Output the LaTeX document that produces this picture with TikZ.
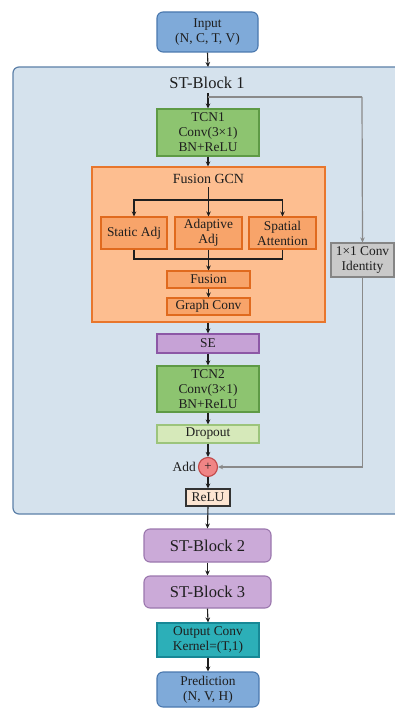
\documentclass[tikz,border=0pt]{standalone}
\usepackage{fontspec}
\setmainfont{Liberation Serif}
\usetikzlibrary{arrows.meta,positioning}

\definecolor{blockfill}{HTML}{D5E2ED}
\definecolor{blockline}{HTML}{5C80A8}
\definecolor{iofill}{HTML}{7FAAD9}
\definecolor{ioline}{HTML}{4A78AE}
\definecolor{tcnfill}{HTML}{8DC470}
\definecolor{tcnline}{HTML}{5E9A45}
\definecolor{gcnfill}{HTML}{FDBE90}
\definecolor{gcnline}{HTML}{E8762C}
\definecolor{subfill}{HTML}{F8A46A}
\definecolor{subline}{HTML}{E06A1E}
\definecolor{sefill}{HTML}{C6A2D6}
\definecolor{seline}{HTML}{8C58A6}
\definecolor{dropfill}{HTML}{D6E9BA}
\definecolor{dropline}{HTML}{9CC47C}
\definecolor{addfill}{HTML}{F08585}
\definecolor{addline}{HTML}{C24848}
\definecolor{relufill}{HTML}{FCE5D2}
\definecolor{idfill}{HTML}{C9C9C9}
\definecolor{idline}{HTML}{858585}
\definecolor{stfill}{HTML}{CBAAD8}
\definecolor{stline}{HTML}{9B77AE}
\definecolor{outfill}{HTML}{2CAFB8}
\definecolor{outline}{HTML}{178896}
\definecolor{skipline}{HTML}{8A8A8A}
\definecolor{ink}{HTML}{1E1E1E}

\tikzset{
  base/.style={rectangle, draw, line width=1.1pt, inner sep=0pt, align=center,
    font=\fontsize{13.4}{15}\selectfont, text=ink},
  iobox/.style={base, rounded corners=6pt, fill=iofill, draw=ioline},
  tcnbox/.style={base, fill=tcnfill, draw=tcnline},
  gcnbox/.style={base, fill=gcnfill, draw=gcnline},
  subbox/.style={base, fill=subfill, draw=subline},
  sebox/.style={base, fill=sefill, draw=seline},
  dropbox/.style={base, fill=dropfill, draw=dropline},
  relubox/.style={base, fill=relufill, draw=black!80},
  idbox/.style={base, fill=idfill, draw=idline},
  stbox/.style={base, rounded corners=6pt, fill=stfill, draw=stline,
    font=\fontsize{16.5}{18}\selectfont},
  outbox/.style={base, fill=outfill, draw=outline},
  addnode/.style={circle, draw=addline, fill=addfill, line width=1.1pt,
    minimum size=19pt, inner sep=0pt, font=\fontsize{13}{13}\selectfont, text=ink},
  arr/.style={draw=ink, line width=1.1pt, -{Stealth[length=5pt,width=4.6pt]}},
  ln/.style={draw=ink, line width=1.1pt},
  garr/.style={draw=skipline, line width=1.2pt, -{Stealth[length=5pt,width=4.6pt]}},
  gln/.style={draw=skipline, line width=1.2pt},
}

\begin{document}
\begin{tikzpicture}[x=1pt,y=-1pt]
\useasboundingbox (0,0) rectangle (395,708);

% ST-Block 1 container (runs off the right side)
\fill[blockfill, draw=blockline, line width=1.2pt, rounded corners=6pt]
  (13,67) rectangle (430,514);
\node[font=\fontsize{16.5}{18}\selectfont, text=ink] (blklabel) at (207,83) {ST-Block 1};

% input
\node[iobox, minimum width=101pt, minimum height=40pt] (in) at (207.5,32) {Input\\(N, C, T, V)};
\coordinate (blkin) at (208,67);
\coordinate (split) at (208,93);
\coordinate (skipturn) at (362,97);

% temporal conv 1
\node[tcnbox, minimum width=102pt, minimum height=47pt] (tcn1) at (208,132.5) {TCN1\\Conv(3×1)\\BN+ReLU};

% fusion GCN group
\node[gcnbox, minimum width=233pt, minimum height=155pt] (fgcn) at (208.5,244.5) {};
\node[font=\fontsize{14}{16}\selectfont, text=ink] (fglab) at (208.5,179) {Fusion GCN};
\node[subbox, minimum width=66pt, minimum height=32pt] (sadj) at (134,233) {Static Adj};
\node[subbox, minimum width=67pt, minimum height=32pt] (aadj) at (208.5,233) {Adaptive\\Adj};
\node[subbox, minimum width=67pt, minimum height=32pt] (satt) at (282.5,233) {Spatial\\Attention};
\node[subbox, minimum width=83pt, minimum height=17pt] (fusion) at (208.5,279.5) {Fusion};
\node[subbox, minimum width=83pt, minimum height=17pt] (gconv) at (208.5,306.5) {Graph Conv};
\coordinate (br) at (208.5,200);
\coordinate (mg) at (208.5,259);

% rest of the block
\node[sebox, minimum width=102pt, minimum height=19pt] (se) at (208,343.5) {SE};
\node[tcnbox, minimum width=102pt, minimum height=46pt] (tcn2) at (208,389) {TCN2\\Conv(3×1)\\BN+ReLU};
\node[dropbox, minimum width=102pt, minimum height=18pt] (drop) at (208,434) {Dropout};
\node[addnode] (add) at (208,467) {+};
\node[anchor=east, font=\fontsize{13.4}{15}\selectfont, text=ink, inner sep=0pt] (addlab) at (196,467) {Add};
\node[relubox, minimum width=44pt, minimum height=17pt] (relu) at (208,497.5) {ReLU};
\node[idbox, minimum width=63pt, minimum height=34pt] (idn) at (362.5,260) {1×1 Conv\\Identity};

% later blocks and head
\node[stbox, minimum width=127pt, minimum height=33pt] (stb2) at (207.5,545.5) {ST-Block 2};
\node[stbox, minimum width=127pt, minimum height=32pt] (stb3) at (207.5,592) {ST-Block 3};
\node[outbox, minimum width=102pt, minimum height=34pt] (outc) at (208,640) {Output Conv\\Kernel=(T,1)};
\node[iobox, minimum width=102pt, minimum height=35pt] (pred) at (208,689.5) {Prediction\\(N, V, H)};

% main path
\draw[arr] (in.south) -- (blkin);
\draw[arr] (split) -- (tcn1.north);
\draw[arr] (tcn1.south) -- (tcn1.south |- fgcn.north);
\draw[ln] (fglab.south) -- (br);
\draw[arr] (br) -| (sadj.north);
\draw[arr] (br) -| (satt.north);
\draw[arr] (br) -- (aadj.north);
\draw[ln] (sadj.south) |- (mg) -| (satt.south);
\draw[ln] (aadj.south) -- (mg);
\draw[arr] (mg) -- (fusion.north);
\draw[arr] (fusion.south) -- (gconv.north);
\draw[arr] (fgcn.south -| se.north) -- (se.north);
\draw[arr] (se.south) -- (tcn2.north);
\draw[arr] (tcn2.south) -- (drop.north);
\draw[arr] (drop.south) -- (add.north);
\draw[arr] (add.south) -- (relu.north);
\draw[arr] (relu.south) -- (stb2.north);
\draw[arr] (stb2.south) -- (stb3.north);
\draw[arr] (stb3.south) -- (outc.north);
\draw[arr] (outc.south) -- (pred.north);

% residual branch
\draw[gln] (split |- skipturn) -- (skipturn);
\draw[garr] (skipturn) -- (idn.north);
\draw[garr] (idn.south) |- (add.east);
\end{tikzpicture}
\end{document}
